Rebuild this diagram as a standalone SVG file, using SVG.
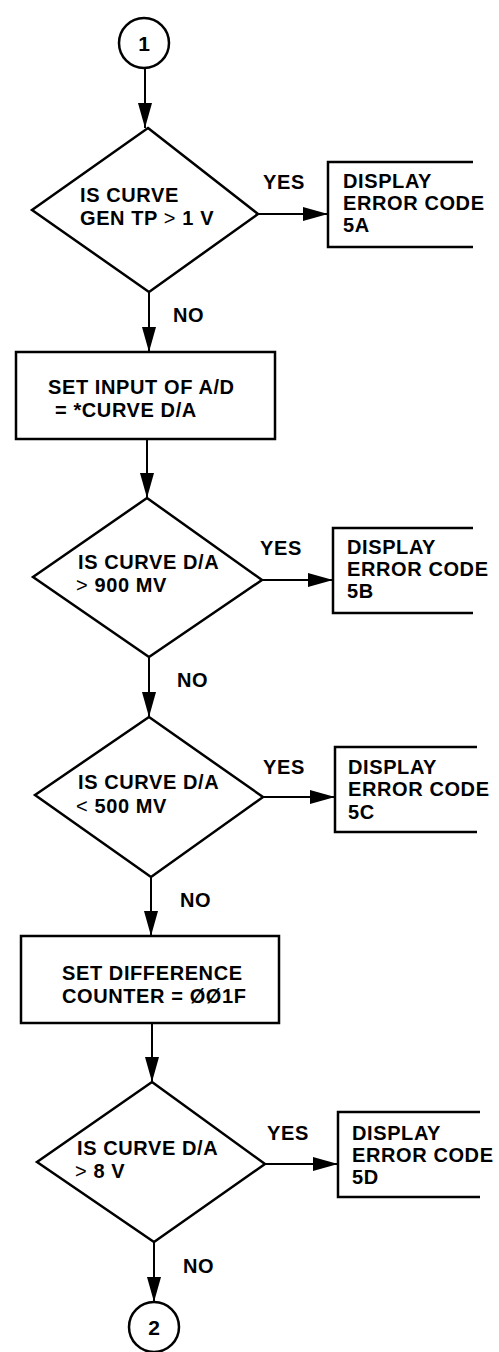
<svg xmlns="http://www.w3.org/2000/svg" width="499" height="1352" viewBox="0 0 499 1352">
<style>
.s{fill:none;stroke:#000;stroke-width:2.5}
.w{fill:#fff;stroke:#000;stroke-width:2.5}
.c{fill:none;stroke:#000;stroke-width:2}
text{font-family:"Liberation Sans",Arial,sans-serif;font-weight:bold;font-size:20px;letter-spacing:0.6px;fill:#000}
.op{font-weight:normal}
.n{font-size:21px;letter-spacing:0}
</style>
<defs>
<marker id="ah" markerUnits="userSpaceOnUse" markerWidth="26" markerHeight="14" refX="25" refY="7" orient="auto">
<path d="M0,0 L25,7 L0,14 z" fill="#000"/>
</marker>
</defs>
<rect width="499" height="1352" fill="#fff"/>
<g id="connectors">
<line class="c" x1="145" y1="68" x2="145" y2="128" marker-end="url(#ah)"/>
<line class="c" x1="258" y1="214" x2="328" y2="214" marker-end="url(#ah)"/>
<line class="c" x1="149" y1="292" x2="149" y2="352" marker-end="url(#ah)"/>
<line class="c" x1="147" y1="439" x2="147" y2="498" marker-end="url(#ah)"/>
<line class="c" x1="262" y1="580" x2="333" y2="580" marker-end="url(#ah)"/>
<line class="c" x1="149" y1="657" x2="149" y2="717" marker-end="url(#ah)"/>
<line class="c" x1="263" y1="797" x2="335" y2="797" marker-end="url(#ah)"/>
<line class="c" x1="151" y1="877" x2="151" y2="936" marker-end="url(#ah)"/>
<line class="c" x1="152" y1="1023" x2="152" y2="1082" marker-end="url(#ah)"/>
<line class="c" x1="265" y1="1164" x2="338" y2="1164" marker-end="url(#ah)"/>
<line class="c" x1="154" y1="1242" x2="154" y2="1302" marker-end="url(#ah)"/>
<text x="263" y="189">YES</text>
<text x="173" y="322">NO</text>
<text x="260" y="555">YES</text>
<text x="177" y="687">NO</text>
<text x="263" y="774">YES</text>
<text x="180" y="907">NO</text>
<text x="267" y="1140">YES</text>
<text x="183" y="1273">NO</text>
</g>
<g id="start">
<circle class="w" cx="144" cy="43" r="25"/>
<text class="n" x="144" y="51" text-anchor="middle">1</text>
</g>
<g id="d1">
<polygon class="w" points="148,128 258,214 149,292 32,210"/>
<text x="80" y="202">IS CURVE</text>
<text x="80" y="225">GEN TP <tspan class="op">&gt;</tspan> 1 V</text>
</g>
<g id="e5a">
<path class="s" d="M473,162 H328 V247 H473"/>
<text x="343" y="188">DISPLAY</text>
<text x="343" y="210">ERROR CODE</text>
<text x="343" y="232">5A</text>
</g>
<g id="p1">
<rect class="w" x="16" y="352" width="259" height="87"/>
<text x="48" y="394">SET INPUT OF A/D</text>
<text x="55" y="417">= *CURVE D/A</text>
</g>
<g id="d2">
<polygon class="w" points="147,498 262,580 149,657 33,577"/>
<text x="78" y="569">IS CURVE D/A</text>
<text x="76" y="592"><tspan class="op">&gt;</tspan> 900 MV</text>
</g>
<g id="e5b">
<path class="s" d="M473,528 H333 V613 H473"/>
<text x="347" y="554">DISPLAY</text>
<text x="347" y="576">ERROR CODE</text>
<text x="347" y="598">5B</text>
</g>
<g id="d3">
<polygon class="w" points="149,717 263,797 151,877 35,795"/>
<text x="78" y="789">IS CURVE D/A</text>
<text x="76" y="813"><tspan class="op">&lt;</tspan> 500 MV</text>
</g>
<g id="e5c">
<path class="s" d="M477,747 H335 V832 H477"/>
<text x="348" y="774">DISPLAY</text>
<text x="348" y="796">ERROR CODE</text>
<text x="348" y="819">5C</text>
</g>
<g id="p2">
<rect class="w" x="21" y="936" width="258" height="87"/>
<text x="62" y="980">SET DIFFERENCE</text>
<text x="62" y="1003">COUNTER = ØØ1F</text>
</g>
<g id="d4">
<polygon class="w" points="152,1082 265,1164 154,1242 37,1162"/>
<text x="77" y="1155">IS CURVE D/A</text>
<text x="75" y="1178"><tspan class="op">&gt;</tspan> 8 V</text>
</g>
<g id="e5d">
<path class="s" d="M480,1112 H338 V1197 H480"/>
<text x="352" y="1140">DISPLAY</text>
<text x="352" y="1162">ERROR CODE</text>
<text x="352" y="1184">5D</text>
</g>
<g id="end">
<circle class="w" cx="154" cy="1327" r="25"/>
<text class="n" x="154" y="1335" text-anchor="middle">2</text>
</g>
</svg>
